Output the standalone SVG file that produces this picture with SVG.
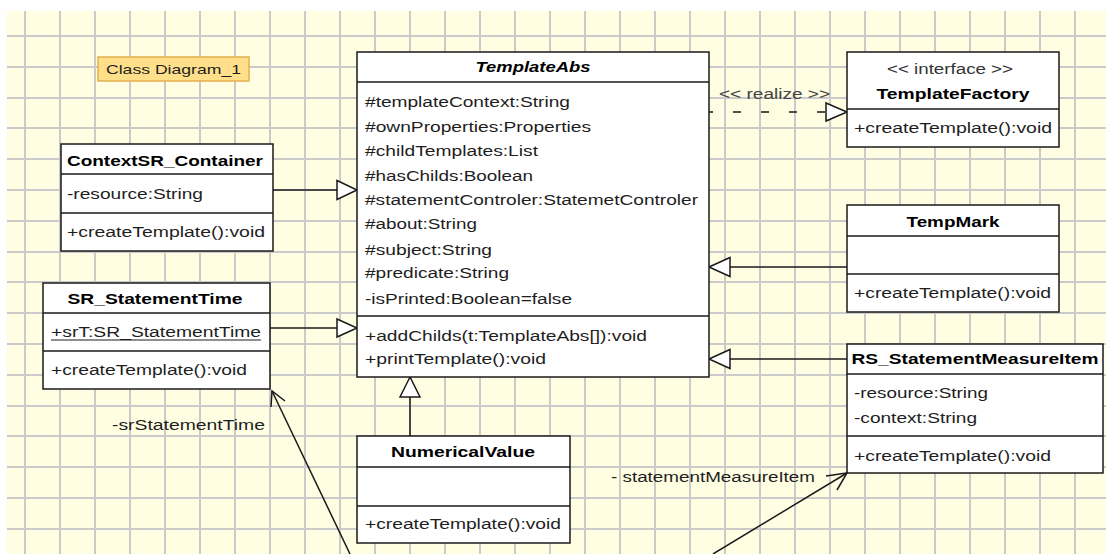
<svg xmlns="http://www.w3.org/2000/svg" width="1106" height="554" viewBox="0 0 1106 554">
<style>
text{font-family:"Liberation Sans",Arial,sans-serif;font-size:14px;fill:#1e1e1e}
.b{font-weight:bold;fill:#000}
.bi{font-weight:bold;font-style:italic;fill:#000}
.g{fill:#444}
.c{text-anchor:middle}
.box{fill:#fff;stroke:#1a1a1a;stroke-width:1.5}
.sep{stroke:#1a1a1a;stroke-width:1.5}
.ln{stroke:#1a1a1a;stroke-width:1.5;fill:none}
.tri{fill:#fff;stroke:#1a1a1a;stroke-width:1.5}
</style>
<rect x="0" y="0" width="1106" height="554" fill="#fff"/>
<rect x="7" y="11" width="1099" height="543" fill="#fffee3"/>
<path stroke="#cacaca" stroke-width="2" fill="none" d="M25 11V554M60 11V554M95 11V554M130 11V554M165 11V554M200 11V554M235 11V554M270 11V554M305 11V554M340 11V554M375 11V554M410 11V554M445 11V554M480 11V554M515 11V554M550 11V554M585 11V554M620 11V554M655 11V554M690 11V554M725 11V554M760 11V554M795 11V554M830 11V554M865 11V554M900 11V554M935 11V554M970 11V554M1005 11V554M1040 11V554M1075 11V554M7 36H1106M7 67H1106M7 98H1106M7 128H1106M7 159H1106M7 190H1106M7 221H1106M7 252H1106M7 282H1106M7 313H1106M7 344H1106M7 375H1106M7 406H1106M7 436H1106M7 467H1106M7 498H1106M7 529H1106"/>

<g id="label-class-diagram">
<rect x="98" y="57" width="151" height="24" fill="#ffdf8a" stroke="#e2b04c" stroke-width="1.5"/>
<text x="106" y="74" font-size="13" textLength="135" lengthAdjust="spacingAndGlyphs" style="font-size:13px">Class Diagram_1</text>
</g>

<g id="connectors">
<line class="ln" x1="709" y1="112" x2="826" y2="112" stroke-dasharray="8 20" stroke-dashoffset="4"/>
<polygon class="tri" points="826,103 847,112 826,121"/>
<text class="g" x="719" y="99" textLength="111" lengthAdjust="spacingAndGlyphs">&lt;&lt; realize &gt;&gt;</text>

<line class="ln" x1="730" y1="267" x2="847" y2="267"/>
<polygon class="tri" points="709,267 730,257.5 730,276.5"/>

<line class="ln" x1="730" y1="359" x2="847" y2="359"/>
<polygon class="tri" points="709,359 730,349.5 730,368.5"/>

<line class="ln" x1="273" y1="190" x2="337" y2="190"/>
<polygon class="tri" points="337,180.5 357,190 337,199.5"/>

<line class="ln" x1="270" y1="328" x2="337" y2="328"/>
<polygon class="tri" points="337,319 357,328 337,337"/>

<line class="ln" x1="410" y1="436" x2="410" y2="397"/>
<polygon class="tri" points="410,377 400,397 420,397"/>

<line class="ln" x1="350" y1="554" x2="272" y2="391"/>
<polyline class="ln" points="285,401 272,391 271,407"/>
<text x="112" y="430" textLength="153" lengthAdjust="spacingAndGlyphs">-srStatementTime</text>

<line class="ln" x1="713" y1="554" x2="847" y2="473"/>
<polyline class="ln" points="826,476 847,473 837,490"/>
<text x="611" y="482" textLength="204" lengthAdjust="spacingAndGlyphs">- statementMeasureItem</text>
</g>

<g id="TemplateAbs">
<rect class="box" x="357" y="52" width="352" height="325"/>
<line class="sep" x1="357" y1="82" x2="709" y2="82"/>
<line class="sep" x1="357" y1="316" x2="709" y2="316"/>
<text class="bi c" x="533" y="72" textLength="115" lengthAdjust="spacingAndGlyphs">TemplateAbs</text>
<text x="365" y="107" textLength="205" lengthAdjust="spacingAndGlyphs">#templateContext:String</text>
<text x="365" y="132" textLength="226" lengthAdjust="spacingAndGlyphs">#ownProperties:Properties</text>
<text x="365" y="156" textLength="173" lengthAdjust="spacingAndGlyphs">#childTemplates:List</text>
<text x="365" y="181" textLength="168" lengthAdjust="spacingAndGlyphs">#hasChilds:Boolean</text>
<text x="365" y="205" textLength="333" lengthAdjust="spacingAndGlyphs">#statementControler:StatemetControler</text>
<text x="365" y="229" textLength="112" lengthAdjust="spacingAndGlyphs">#about:String</text>
<text x="365" y="255" textLength="127" lengthAdjust="spacingAndGlyphs">#subject:String</text>
<text x="365" y="278" textLength="144" lengthAdjust="spacingAndGlyphs">#predicate:String</text>
<text x="365" y="304" textLength="207" lengthAdjust="spacingAndGlyphs">-isPrinted:Boolean=false</text>
<text x="365" y="341" textLength="282" lengthAdjust="spacingAndGlyphs">+addChilds(t:TemplateAbs[]):void</text>
<text x="365" y="364" textLength="181" lengthAdjust="spacingAndGlyphs">+printTemplate():void</text>
</g>

<g id="TemplateFactory">
<rect class="box" x="847" y="52" width="212" height="95"/>
<line class="sep" x1="847" y1="109" x2="1059" y2="109"/>
<text class="c" x="950" y="74" textLength="126" lengthAdjust="spacingAndGlyphs" style="fill:#333">&lt;&lt; interface &gt;&gt;</text>
<text class="b c" x="953" y="99" textLength="153" lengthAdjust="spacingAndGlyphs">TemplateFactory</text>
<text x="854" y="133" textLength="198" lengthAdjust="spacingAndGlyphs">+createTemplate():void</text>
</g>

<g id="TempMark">
<rect class="box" x="847" y="205" width="212" height="107"/>
<line class="sep" x1="847" y1="236" x2="1059" y2="236"/>
<line class="sep" x1="847" y1="274" x2="1059" y2="274"/>
<text class="b c" x="953" y="227" textLength="93" lengthAdjust="spacingAndGlyphs">TempMark</text>
<text x="854" y="298" textLength="197" lengthAdjust="spacingAndGlyphs">+createTemplate():void</text>
</g>

<g id="RS_StatementMeasureItem">
<rect class="box" x="847" y="344" width="256" height="129"/>
<line class="sep" x1="847" y1="374" x2="1103" y2="374"/>
<line class="sep" x1="847" y1="436" x2="1103" y2="436"/>
<text class="b c" x="975" y="364" textLength="247" lengthAdjust="spacingAndGlyphs">RS_StatementMeasureItem</text>
<text x="854" y="398" textLength="134" lengthAdjust="spacingAndGlyphs">-resource:String</text>
<text x="854" y="423" textLength="123" lengthAdjust="spacingAndGlyphs">-context:String</text>
<text x="854" y="461" textLength="197" lengthAdjust="spacingAndGlyphs">+createTemplate():void</text>
</g>

<g id="ContextSR_Container">
<rect class="box" x="61" y="144" width="212" height="107"/>
<line class="sep" x1="61" y1="174" x2="273" y2="174"/>
<line class="sep" x1="61" y1="213" x2="273" y2="213"/>
<text class="b c" x="165" y="166" textLength="196" lengthAdjust="spacingAndGlyphs">ContextSR_Container</text>
<text x="67" y="199" textLength="136" lengthAdjust="spacingAndGlyphs">-resource:String</text>
<text x="67" y="237" textLength="198" lengthAdjust="spacingAndGlyphs">+createTemplate():void</text>
</g>

<g id="SR_StatementTime">
<rect class="box" x="43" y="283" width="227" height="106"/>
<line class="sep" x1="43" y1="313" x2="270" y2="313"/>
<line class="sep" x1="43" y1="351" x2="270" y2="351"/>
<text class="b c" x="155" y="304" textLength="175" lengthAdjust="spacingAndGlyphs">SR_StatementTime</text>
<text x="51" y="337" textLength="210" lengthAdjust="spacingAndGlyphs">+srT:SR_StatementTime</text>
<line x1="51" y1="340" x2="261" y2="340" stroke="#1e1e1e" stroke-width="1.2"/>
<text x="51" y="375" textLength="196" lengthAdjust="spacingAndGlyphs">+createTemplate():void</text>
</g>

<g id="NumericalValue">
<rect class="box" x="357" y="436" width="213" height="107"/>
<line class="sep" x1="357" y1="467" x2="570" y2="467"/>
<line class="sep" x1="357" y1="506" x2="570" y2="506"/>
<text class="b c" x="463" y="457" textLength="144" lengthAdjust="spacingAndGlyphs">NumericalValue</text>
<text x="365" y="529" textLength="196" lengthAdjust="spacingAndGlyphs">+createTemplate():void</text>
</g>
</svg>
